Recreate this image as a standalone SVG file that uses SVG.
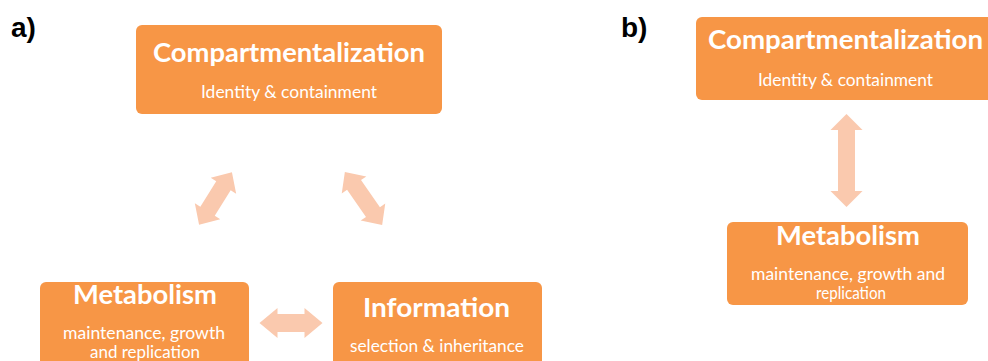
<svg xmlns="http://www.w3.org/2000/svg" width="988" height="361" viewBox="0 0 988 361">
<defs>
<style>
.box{fill:#F79646;}
.t{font-family:Lato,"Open Sans","Liberation Sans",sans-serif;font-weight:bold;font-size:27px;fill:#FFFFFF;text-anchor:middle;}
.s{font-family:Lato,"Open Sans","Liberation Sans",sans-serif;font-size:16.5px;fill:#FFFFFF;text-anchor:middle;}
.lab{font-family:"Liberation Sans",Arial,sans-serif;font-weight:bold;font-size:28px;fill:#000000;}
.arr{fill:#FAC9AE;}
</style>
</defs>
<rect width="988" height="361" fill="#FFFFFF"/>
<text class="lab" x="11" y="37">a)</text>
<text class="lab" x="621" y="37">b)</text>

<g id="a-compartmentalization">
<rect class="box" x="136" y="25" width="306" height="89" rx="6"/>
<text class="t" x="289" y="62" textLength="272" lengthAdjust="spacingAndGlyphs">Compartmentalization</text>
<text class="s" x="289" y="98" textLength="176" lengthAdjust="spacingAndGlyphs">Identity &amp; containment</text>
</g>
<g id="a-metabolism">
<rect class="box" x="40" y="282" width="209" height="95" rx="6"/>
<text class="t" x="145" y="304" textLength="144" lengthAdjust="spacingAndGlyphs">Metabolism</text>
<text class="s" x="144" y="339" textLength="162" lengthAdjust="spacingAndGlyphs">maintenance, growth</text>
<text class="s" x="145" y="358" textLength="110" lengthAdjust="spacingAndGlyphs">and replication</text>
</g>
<g id="a-information">
<rect class="box" x="333" y="282" width="209" height="95" rx="6"/>
<text class="t" x="436.5" y="317" textLength="147" lengthAdjust="spacingAndGlyphs">Information</text>
<text class="s" x="437" y="352" textLength="174" lengthAdjust="spacingAndGlyphs">selection &amp; inheritance</text>
</g>
<g id="b-compartmentalization">
<rect class="box" x="696" y="17" width="300" height="83" rx="6"/>
<text class="t" x="845.5" y="49" textLength="275" lengthAdjust="spacingAndGlyphs">Compartmentalization</text>
<text class="s" x="845.5" y="86" textLength="175" lengthAdjust="spacingAndGlyphs">Identity &amp; containment</text>
</g>
<g id="b-metabolism">
<rect class="box" x="727" y="222" width="241" height="83" rx="6"/>
<text class="t" x="848" y="245" textLength="144" lengthAdjust="spacingAndGlyphs">Metabolism</text>
<text class="s" x="848" y="280" textLength="194" lengthAdjust="spacingAndGlyphs">maintenance, growth and</text>
<text class="s" x="851" y="299" textLength="70" lengthAdjust="spacingAndGlyphs">replication</text>
</g>

<g id="connectors">
<polygon class="arr" transform="translate(291,323) rotate(0)" points="-31.5,0 -13.5,-15 -13.5,-9 13.5,-9 13.5,-15 31.5,0 13.5,15 13.5,9 -13.5,9 -13.5,15"/>
<polygon class="arr" transform="translate(215.5,198.5) rotate(-58)" points="-31,0 -15,-15 -15,-8.5 15,-8.5 15,-15 31,0 15,15 15,8.5 -15,8.5 -15,15"/>
<polygon class="arr" transform="translate(363.5,198.5) rotate(55)" points="-32.5,0 -16.5,-15 -16.5,-8.5 16.5,-8.5 16.5,-15 32.5,0 16.5,15 16.5,8.5 -16.5,8.5 -16.5,15"/>
<polygon class="arr" transform="translate(846.5,160.5) rotate(90)" points="-46.5,0 -30.5,-16 -30.5,-8.5 30.5,-8.5 30.5,-16 46.5,0 30.5,16 30.5,8.5 -30.5,8.5 -30.5,16"/>
</g>
</svg>
